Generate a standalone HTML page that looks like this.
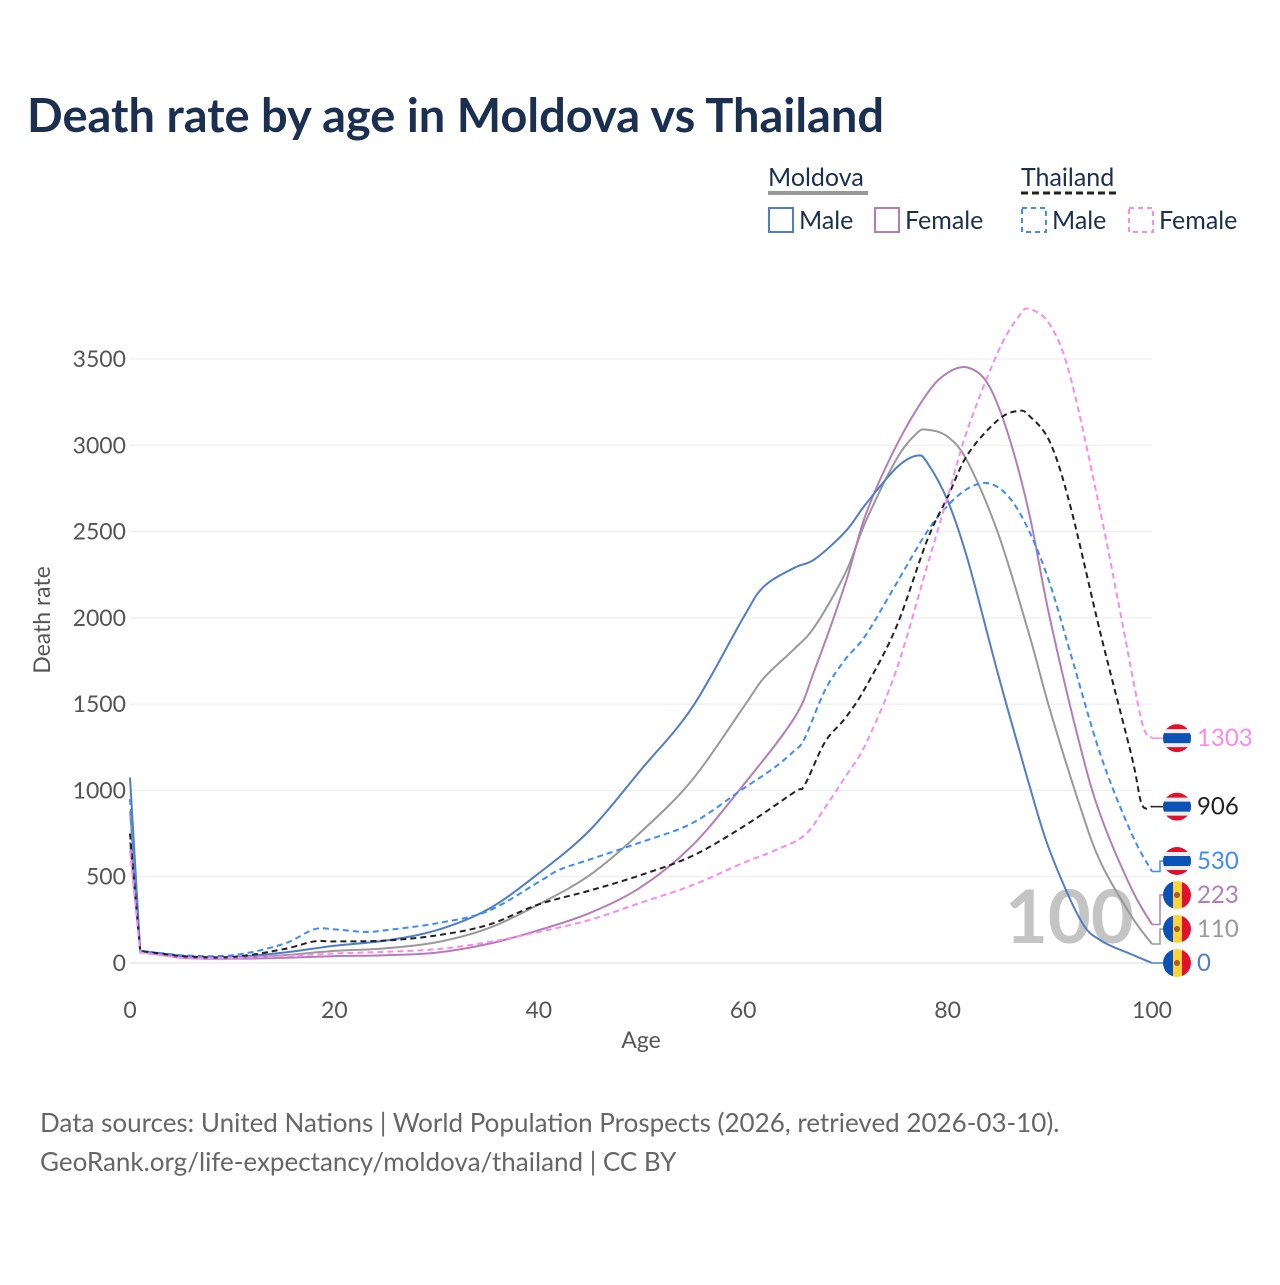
<!DOCTYPE html>
<html><head><meta charset="utf-8"><style>
body{margin:0;background:#fff;font-family:"Liberation Sans",sans-serif}
svg text{font-family:"Lato","Liberation Sans",sans-serif}
</style></head><body>
<svg id="chart" width="1280" height="1280" viewBox="0 0 1280 1280">
<text x="27" y="132" font-size="47" font-weight="bold" fill="#1b3050">Death rate by age in Moldova vs Thailand</text>
<g>
<text x="768" y="186" font-size="25" fill="#1b3050">Moldova</text>
<line x1="768" y1="193" x2="868" y2="193" stroke="#999" stroke-width="4"/>
<text x="1021" y="186" font-size="25" fill="#1b3050">Thailand</text>
<line x1="1021" y1="193" x2="1119" y2="193" stroke="#222" stroke-width="3" stroke-dasharray="7,4"/>
<g><rect x="769" y="208" width="24" height="24" fill="none" stroke="#4f7dc9" stroke-width="2"/><text x="799" y="229" font-size="25" fill="#1b3050">Male</text></g>
<g><rect x="875" y="208" width="24" height="24" fill="none" stroke="#b57cba" stroke-width="2"/><text x="905" y="229" font-size="25" fill="#1b3050">Female</text></g>
<g><rect x="1022" y="208" width="24" height="24" fill="none" stroke="#3d8bff" stroke-width="2" stroke-dasharray="5,4"/><text x="1052" y="229" font-size="25" fill="#1b3050">Male</text></g>
<g><rect x="1129" y="208" width="24" height="24" fill="none" stroke="#ff88ee" stroke-width="2" stroke-dasharray="5,4"/><text x="1159" y="229" font-size="25" fill="#1b3050">Female</text></g>
</g>
<g id="grid"></g>
<text x="1005" y="943" font-size="74" font-weight="bold" fill="#c4c4c4">100</text>
<g id="series"></g>
<g id="labels"></g>
<text x="641" y="1048" font-size="23" fill="#555" text-anchor="middle">Age</text>
<text transform="translate(50,620) rotate(-90)" font-size="23" fill="#555" text-anchor="middle">Death rate</text>
<text x="40" y="1132" font-size="26" fill="#666">Data sources: United Nations | World Population Prospects (2026, retrieved 2026-03-10).</text>
<text x="40" y="1171" font-size="26" fill="#666">GeoRank.org/life-expectancy/moldova/thailand | CC BY</text>
</svg>
<script>
const xTicks=[0,20,40,60,80,100];
const yTicks=[0,500,1000,1500,2000,2500,3000,3500];
const mdMaleAges=[0,1,5,10,15,20,25,30,35,40,45,50,55,60,62,65,67,70,72,75,77,78,80,82,85,88,90,93,95,98,100];
const mdMaleVals=[1075,70,40,35,60,100,130,190,310,520,770,1120,1480,2000,2180,2290,2340,2500,2660,2870,2940,2900,2680,2330,1660,1030,650,250,130,50,0];
const mdFemaleAges=[0,1,5,10,15,20,25,30,35,40,45,50,55,60,65,67,70,72,75,78,80,82,84,86,88,90,93,95,98,100];
const mdFemaleVals=[700,65,30,25,30,40,45,60,110,190,290,440,680,1030,1420,1700,2200,2600,3000,3300,3420,3450,3350,3050,2600,2000,1250,850,430,223];
const mdTotalAges=[0,1,5,10,15,20,25,30,35,40,45,50,55,60,62,65,67,70,72,75,77,78,80,82,85,88,90,93,95,98,100];
const mdTotalVals=[880,68,35,30,45,70,85,120,200,340,510,760,1060,1480,1650,1820,1950,2260,2560,2920,3070,3090,3050,2900,2480,1900,1470,900,580,270,110];
const thTotalAges=[0,1,5,10,15,18,20,25,30,35,40,45,50,55,60,65,66,68,70,72,75,78,80,82,85,87,88,90,92,95,98,99,100];
const thTotalVals=[750,70,40,35,80,125,125,130,160,220,340,420,510,620,790,990,1030,1280,1420,1600,1950,2450,2700,2950,3150,3200,3170,3020,2650,1900,1200,920,906];
const thMaleAges=[0,1,5,10,15,18,20,23,25,30,35,40,42,45,50,55,60,63,65,66,68,70,72,75,78,80,82,84,86,88,90,92,95,98,100];
const thMaleVals=[950,70,45,45,110,195,195,180,190,230,300,470,540,600,700,810,1010,1130,1230,1300,1580,1760,1900,2200,2500,2650,2750,2780,2700,2500,2200,1800,1200,750,530];
const thFemaleAges=[0,1,5,10,15,20,25,30,35,40,45,50,55,60,63,66,68,70,72,75,78,80,82,85,87,88,90,92,95,97,99,100];
const thFemaleVals=[650,60,30,30,40,55,65,80,120,180,250,350,450,580,650,740,900,1080,1270,1700,2300,2700,3100,3550,3750,3790,3700,3400,2600,2000,1400,1303];

const X=a=>130+a*(1152-130)/100;
const Y=v=>963-v*(963-359)/3500;
const NS="http://www.w3.org/2000/svg";
function mk(tag,attrs,parent){const e=document.createElementNS(NS,tag);for(const k in attrs)e.setAttribute(k,attrs[k]);parent.appendChild(e);return e;}
const grid=document.getElementById('grid');
yTicks.forEach(t=>{
  const l=mk('line',{x1:130,x2:1152,y1:Y(t),y2:Y(t),stroke:t===0?'#ddd':'#ebebeb','stroke-width':1},grid);
  
  
  const tx=mk('text',{x:126,y:Y(t)+8,'font-size':23,fill:'#555','text-anchor':'end'},grid);
  tx.textContent=t;
  
  
});
xTicks.forEach(t=>{
  const tx=mk('text',{x:X(t),y:1018,'font-size':23,fill:'#555','text-anchor':'middle'},grid);
  tx.textContent=t;
  
  
});
function path(ages,vals){
  const p=ages.map((a,i)=>[X(a),Y(vals[i])]);
  let d='M'+p[0][0]+','+p[0][1];
  for(let i=0;i<p.length-1;i++){
    const p0=p[Math.max(0,i-1)],p1=p[i],p2=p[i+1],p3=p[Math.min(p.length-1,i+2)];
    let t=(i===0||i===1)?0:1/6;
    const c1=[p1[0]+(p2[0]-p0[0])*t,p1[1]+(p2[1]-p0[1])*t];
    const c2=[p2[0]-(p3[0]-p1[0])*t,p2[1]-(p3[1]-p1[1])*t];
    d+=' C'+c1+' '+c2+' '+p2;
  }
  return d;
}
const series=[
 {n:'moldova-total',a:mdTotalAges,v:mdTotalVals,c:'#999',dash:'',lc:'#999',flag:'md'},
 {n:'moldova-female',a:mdFemaleAges,v:mdFemaleVals,c:'#b57cba',dash:'',lc:'#b57cba',flag:'md'},
 {n:'moldova-male',a:mdMaleAges,v:mdMaleVals,c:'#4f7dc9',dash:'',lc:'#4f7dc9',flag:'md'},
 {n:'thailand-male',a:thMaleAges,v:thMaleVals,c:'#3d8bff',dash:'6,4',lc:'#3d8bff',flag:'th'},
 {n:'thailand-total',a:thTotalAges,v:thTotalVals,c:'#222',dash:'6,4',lc:'#222',flag:'th'},
 {n:'thailand-female',a:thFemaleAges,v:thFemaleVals,c:'#ff88ee',dash:'6,4',lc:'#ff88ee',flag:'th'}
];
const sg=document.getElementById('series');
series.forEach(s=>{
  const p=mk('path',{d:path(s.a,s.v),fill:'none',stroke:s.c,'stroke-width':2,'stroke-dasharray':s.dash},sg);
  
  
});
const ends=series.map(s=>({s,val:s.v[s.v.length-1],y:Y(s.v[s.v.length-1])})).sort((a,b)=>b.y-a.y);
let prev=Infinity;
ends.forEach(e=>{e.ly=Math.min(e.y,prev-34);prev=e.ly;});
const lg=document.getElementById('labels');
ends.forEach(e=>{
  const g=mk('g',{},lg);
  
  
  mk('polyline',{points:`1152,${e.y} 1160,${e.y} 1160,${e.ly} 1166,${e.ly}`,fill:'none',stroke:e.s.c,'stroke-width':1.5},g);
  const cx=1177,cy=e.ly;
  const cid='clip'+e.s.n;
  const cp=mk('clipPath',{id:cid},g);mk('circle',{cx,cy,r:14},cp);
  const fg=mk('g',{'clip-path':`url(#${cid})`},g);
  if(e.s.flag==='th'){
    mk('rect',{x:cx-14,y:cy-14,width:28,height:28,fill:'#e0102f'},fg);
    mk('rect',{x:cx-14,y:cy-9,width:28,height:18,fill:'#eee'},fg);
    mk('rect',{x:cx-14,y:cy-5,width:28,height:10,fill:'#0a52b5'},fg);
  }else{
    mk('rect',{x:cx-14,y:cy-14,width:10,height:28,fill:'#0a52b5'},fg);
    mk('rect',{x:cx-4,y:cy-14,width:9,height:28,fill:'#ffd23a'},fg);
    mk('rect',{x:cx+5,y:cy-14,width:9,height:28,fill:'#e0102f'},fg);
    mk('circle',{cx:cx,cy:cy,r:3,fill:'#b0562a'},fg);
  }
  const t=mk('text',{x:1197,y:e.ly+8,'font-size':24,fill:e.s.lc},g);
  t.textContent=e.val;
});
</script>
</body></html>
